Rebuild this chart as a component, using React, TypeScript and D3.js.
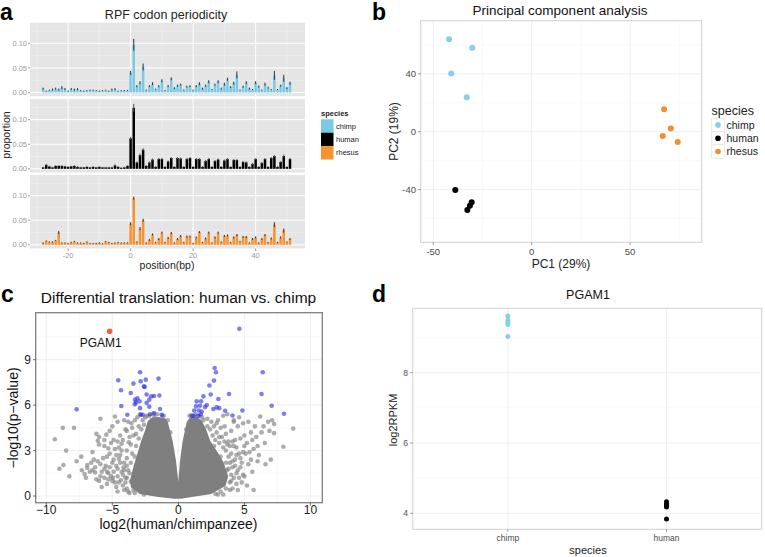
import React from "react";
import * as d3 from "d3";

const FONT = "'Liberation Sans', Arial, Helvetica, sans-serif";

// ---------- panel a: RPF codon periodicity (proportion x 1000) ----------
const positions = [
  -28, -27, -26, -25, -24, -23, -22, -21, -20, -19, -18, -17, -16, -15, -14, -13, -12, -11, -10, -9,
  -8, -7, -6, -5, -4, -3, -2, -1, 0, 1, 2, 3, 4, 5, 6, 7, 8, 9, 10, 11, 12, 13, 14, 15, 16, 17, 18, 19,
  20, 21, 22, 23, 24, 25, 26, 27, 28, 29, 30, 31, 32, 33, 34, 35, 36, 37, 38, 39, 40, 41, 42, 43, 44,
  45, 46, 47, 48, 49, 50, 51,
];
const chimpProp = [
  8, 3, 5, 6, 8, 6, 10, 7, 3, 7, 6, 7, 4, 3, 4, 5, 5, 4, 3, 4, 5, 3, 6, 7, 3, 4, 4, 4,
  40, 97, 13, 20, 52, 5, 13, 18, 7, 13, 24, 4, 13, 28, 9, 14, 16, 5, 12, 13, 5, 13, 18, 8, 14, 22, 6, 16,
  22, 8, 17, 27, 11, 19, 36, 5, 12, 20, 8, 6, 20, 12, 5, 17, 10, 6, 35, 6, 14, 29, 9, 19,
];
const chimpErr = [
  2, 1, 1, 2, 2, 2, 3, 2, 1, 2, 2, 2, 1, 1, 1, 1, 1, 1, 1, 1, 1, 1, 2, 2, 1, 1, 1, 1,
  4, 12, 2, 3, 7, 1, 2, 3, 1, 2, 3, 1, 2, 3, 2, 2, 2, 1, 2, 2, 1, 2, 3, 2, 2, 3, 1, 2,
  3, 2, 3, 3, 2, 3, 7, 1, 2, 3, 2, 1, 3, 2, 1, 3, 2, 1, 9, 1, 2, 7, 2, 3,
];
const humanProp = [
  3, 8, 5, 3, 6, 6, 6, 5, 4, 5, 6, 4, 3, 3, 4, 3, 4, 3, 4, 3, 3, 3, 3, 7, 4, 2, 3, 6,
  62, 124, 13, 28, 39, 6, 13, 19, 4, 20, 20, 4, 15, 22, 4, 22, 21, 4, 20, 22, 4, 20, 20, 4, 16, 20, 4, 16,
  19, 4, 17, 20, 4, 18, 18, 4, 14, 13, 4, 10, 20, 4, 12, 20, 4, 22, 26, 4, 14, 26, 4, 20,
];
const humanErr = [
  1, 2, 1, 1, 1, 1, 1, 1, 1, 1, 1, 1, 1, 1, 1, 1, 1, 1, 1, 1, 1, 1, 1, 2, 1, 1, 1, 1,
  3, 8, 2, 3, 3, 1, 2, 2, 1, 2, 2, 1, 2, 2, 1, 2, 2, 1, 2, 2, 1, 2, 2, 1, 2, 2, 1, 2,
  2, 1, 2, 2, 1, 2, 2, 1, 2, 2, 1, 2, 2, 1, 2, 2, 1, 2, 2, 1, 2, 3, 1, 2,
];
const rhesusProp = [
  4, 8, 6, 6, 9, 25, 4, 4, 3, 5, 7, 4, 4, 3, 6, 3, 3, 3, 4, 2, 7, 5, 3, 4, 5, 4, 4, 4,
  43, 95, 6, 33, 50, 4, 10, 21, 5, 12, 25, 5, 14, 24, 4, 12, 18, 5, 17, 17, 3, 15, 26, 5, 13, 25, 4, 15,
  25, 6, 18, 19, 5, 15, 20, 7, 16, 16, 4, 12, 15, 4, 12, 20, 5, 13, 41, 5, 15, 29, 6, 12,
];
const rhesusErr = [
  1, 1, 1, 1, 1, 3, 1, 1, 1, 1, 1, 1, 1, 1, 1, 1, 1, 1, 1, 1, 1, 1, 1, 1, 1, 1, 1, 1,
  3, 3, 1, 3, 3, 1, 2, 2, 1, 2, 2, 1, 2, 2, 1, 2, 2, 1, 2, 2, 1, 2, 2, 1, 2, 2, 1, 2,
  2, 1, 2, 2, 1, 2, 2, 1, 2, 2, 1, 2, 2, 1, 2, 2, 1, 2, 5, 1, 2, 4, 1, 2,
];

const speciesNames = ["chimp", "human", "rhesus"];
const barColors = ["#78CBE6", "#000000", "#F6922F"];
const pointColors = ["#87CEEB", "#000000", "#F28E2B"];

// ---------- panel b: PCA ----------
const pcaSpecies = ["chimp", "chimp", "chimp", "chimp", "human", "human", "human", "human", "rhesus", "rhesus", "rhesus", "rhesus"];
const pc1 = [-42, -30.2, -40.9, -33, -38.8, -30.5, -31.4, -32.7, 67.3, 70.7, 66.6, 74.2];
const pc2 = [63.9, 58, 40.3, 23.8, -40.3, -48.8, -51.1, -54.1, 15.5, 2.3, -3, -7.1];

// ---------- panel c: volcano ----------
// outline of the saturated, fully overlapping core of the cloud
const denseCore = [
  [-0.3, -0.12], [-1.5, 0.0], [-2.9, 0.2], [-3.5, 0.6], [-3.6, 1.0], [-3.3, 2.0], [-2.95, 3.0],
  [-2.75, 3.6], [-2.45, 4.3], [-2.25, 4.9], [-2.0, 5.1], [-1.5, 5.15], [-1.0, 5.05], [-0.85, 4.8],
  [-0.5, 3.6], [-0.25, 2.3], [-0.08, 1.0], [0, 0.45], [0.08, 1.0], [0.2, 2.3], [0.4, 3.6],
  [0.72, 4.9], [0.95, 5.15], [1.4, 5.15], [1.7, 4.95], [2.0, 4.45], [2.35, 3.6], [2.95, 2.8],
  [3.35, 2.2], [3.7, 1.3], [3.5, 0.7], [2.4, 0.18], [1.0, 0.0], [0.2, -0.12],
];
const volcanoGrey = [
  [-9.35, 3.75], [-8.75, 4.5], [-7.9, 4.5], [-8.5, 3.0], [-9.0, 1.8], [-8.7, 2.05], [-8.25, 1.3],
  [-7.35, 2.6], [-7.7, 2.3], [-7.3, 1.7], [-6.9, 2.05], [-6.7, 1.6], [-7.1, 1.45], [-6.5, 1.7],
  [-6.3, 1.55], [-6.9, 1.85], [-6.1, 3.65], [-6.2, 4.1], [-6.0, 3.9], [-6.0, 3.4], [-6.1, 2.3],
  [-6.2, 1.1], [-6.0, 1.0], [-6.5, 2.9], [-5.9, 5.1], [-5.45, 4.05], [-5.6, 3.3], [-4.8, 5.25],
  [-4.9, 3.7], [-5.0, 4.6], [-4.6, 4.9], [-5.7, 2.5], [-5.5, 2.0], [-5.3, 1.5], [-5.8, 1.6],
  [-5.6, 1.2], [-5.0, 1.0], [-5.2, 2.8], [-4.9, 2.4], [-4.7, 2.0], [-4.5, 3.2], [-4.4, 2.7],
  [-4.3, 1.6], [-4.6, 1.3], [-4.8, 0.9], [-4.2, 0.7], [-5.4, 0.8], [-4.4, 4.0], [-4.2, 3.7],
  [-4.0, 4.4], [-4.1, 2.2], [-5.1, 3.5], [-4.6, 3.6], [-4.0, 1.2], [-3.9, 3.0], [-3.8, 4.9],
  [-3.5, 4.5], [-3.3, 5.0], [-3.1, 5.2], [-3.7, 3.9], [-3.6, 3.4], [-3.2, 4.1], [-3.9, 2.5],
  [-3.0, 4.6], [-2.7, 5.0], [-2.9, 5.4], [-2.5, 5.2], [-3.4, 0.4], [-3.9, 0.5], [-3.3, 0.2],
  [-2.6, 0.1], [-3.8, 1.7], [-3.6, 0.95], [-4.1, 1.7], [-2.2, 5.3], [-1.8, 5.2], [-1.6, 5.4],
  [-1.2, 5.3], [-2.0, 5.0], [-1.4, 4.9], [-5.9, 2.1], [-5.6, 1.8], [-5.2, 1.9], [-4.9, 1.6],
  [-4.6, 1.8], [-4.4, 2.2], [-4.2, 1.4], [-4.5, 0.9], [-4.0, 0.9], [-5.1, 1.3], [-3.9, 2.0],
  [-4.3, 3.0], [-4.7, 2.7], [-5.4, 2.6], [-5.0, 2.2],
  [-3.8, 0.3], [-3.9, 1.2], [-3.7, 1.5], [-3.6, 2.2], [-3.3, 2.6], [-3.2, 3.3], [-3.0, 3.8],
  [-2.8, 4.4], [-2.6, 4.7], [-2.4, 5.3], [-1.9, 5.4], [-1.1, 5.3], [-0.8, 5.0], [-0.6, 4.2],
  [-5.8, 0.6], [-5.3, 1.1], [-4.95, 1.2], [-4.7, 0.6], [-4.35, 1.05], [-4.15, 1.9], [-4.5, 2.45],
  [-4.8, 3.1], [-5.3, 3.15], [-5.6, 3.7], [-4.3, 3.45], [-3.75, 3.55], [-3.5, 2.8], [-3.4, 4.0],
  [-3.55, 4.8], [-3.9, 4.3], [-4.1, 5.0], [-5.2, 4.3], [-6.4, 2.4], [-6.6, 2.2], [-6.3, 1.9],
  [-7.0, 1.2], [-5.9, 1.3], [-5.4, 1.6], [-4.1, 0.4], [-4.6, 0.3], [-3.7, 0.2],
  [1.2, 5.2], [1.6, 5.3], [1.9, 5.0], [2.2, 5.1], [2.5, 4.9], [2.4, 4.4], [2.7, 4.6], [2.9, 4.2],
  [3.2, 4.5], [3.4, 5.3], [3.0, 5.0], [2.8, 3.7], [3.1, 3.5], [3.4, 3.2], [3.6, 3.0], [3.8, 2.6],
  [3.9, 2.2], [4.1, 1.9], [4.0, 1.4], [3.9, 0.9], [3.6, 0.5], [3.2, 0.3], [2.8, 0.15], [3.3, 3.9],
  [3.6, 4.1], [3.8, 3.6], [4.0, 4.3], [4.3, 3.7], [4.5, 4.6], [4.2, 4.9], [4.4, 3.2], [4.6, 2.8],
  [4.3, 2.4], [4.8, 2.2], [4.5, 1.7], [4.9, 1.4], [4.7, 3.8], [5.0, 4.0], [5.2, 3.5], [5.1, 2.8],
  [5.3, 2.1], [5.0, 1.3], [5.2, 0.7], [5.5, 4.2], [5.8, 4.6], [5.9, 3.9], [5.7, 3.1], [6.2, 5.25],
  [6.45, 4.6], [6.55, 3.5], [6.1, 2.7], [5.6, 1.6], [7.0, 2.4], [7.25, 4.75], [7.25, 4.15],
  [7.95, 3.25], [8.7, 4.45], [6.8, 4.9], [6.9, 4.3], [7.1, 5.0], [6.0, 2.3], [4.9, 4.8], [4.2, 5.0],
  [3.7, 5.4], [4.2, 1.2], [4.4, 0.8], [4.1, 0.5], [3.8, 1.8], [4.6, 1.2], [4.0, 2.8], [4.3, 2.0],
  [4.7, 2.5], [3.9, 3.3], [4.2, 3.3],
  [0.6, 4.4], [0.85, 5.3], [1.3, 5.4], [1.8, 5.2], [2.2, 4.6], [2.6, 4.0], [2.7, 3.3], [3.2, 2.6],
  [3.6, 2.2], [3.7, 1.7], [4.0, 1.0], [3.9, 0.4], [3.0, 0.1], [2.9, 4.8], [3.5, 4.6], [3.1, 3.9],
  [3.5, 3.6], [3.7, 3.4], [4.1, 3.6], [4.4, 2.7], [4.1, 2.3], [4.7, 1.9], [4.4, 1.5], [4.8, 0.9],
  [4.5, 0.4], [3.4, 0.1], [5.0, 3.3], [5.4, 2.9], [5.5, 2.4], [4.9, 2.9], [5.6, 3.7], [6.3, 4.2],
  [6.0, 3.3], [5.7, 0.4], [6.6, 2.1], [4.6, 5.2], [5.3, 4.9],
];
const volcanoBlue = [
  [-7.7, 5.72], [-4.55, 7.64], [-4.34, 6.98], [-4.32, 5.94], [-3.86, 5.36], [-3.6, 6.8], [-3.4, 7.42],
  [-2.9, 8.17], [-2.85, 7.57], [-2.6, 7.24], [-2.47, 7.68], [-2.55, 7.2], [-3.28, 6.36], [-3.2, 6.18],
  [-3.3, 6.05], [-3.1, 6.45], [-2.93, 6.25], [-2.9, 5.8], [-2.4, 6.7], [-2.2, 6.36], [-2.05, 6.58],
  [-1.84, 6.6], [-2.4, 6.15], [-2.2, 5.9], [-2.7, 5.36], [-2.85, 5.36], [-2.15, 5.4], [-1.84, 5.47],
  [-1.5, 7.75], [-1.44, 6.64], [-1.39, 5.74], [-1.26, 5.36],
  [4.62, 11.04], [8.0, 5.43], [7.07, 5.96], [6.39, 8.17], [6.3, 6.73], [4.85, 5.65], [4.1, 5.32],
  [3.84, 6.73], [3.54, 5.63], [3.03, 6.4], [3.1, 5.8], [2.9, 5.85], [2.65, 5.74], [2.7, 7.62],
  [2.45, 6.7], [2.35, 7.3], [2.75, 8.45], [2.85, 8.17], [1.9, 6.58], [1.72, 6.25], [1.64, 5.96],
  [1.39, 6.25], [1.34, 5.92], [1.54, 5.65], [1.77, 5.58], [2.02, 5.87], [2.15, 6.0], [1.2, 5.65],
  [1.0, 5.32], [1.15, 5.3], [1.5, 5.3], [1.7, 5.4],
];
const highlightGene = { name: "PGAM1", x: -5.2, y: 10.88 };

// ---------- panel d: PGAM1 expression ----------
const pgamSpecies = ["chimp", "human"];
const pgamChimp = [9.61, 9.49, 9.43, 9.37, 9.03];
const pgamHuman = [4.33, 4.26, 4.22, 4.18, 3.84];

const minus = (v: number) => String(v).replace("-", "\u2212");

function PanelA() {
  const x = d3.scaleLinear().domain([-32.2, 55.8]).range([30, 305]);
  const tops = [22.7, 99, 175];
  const h = 73.5;
  const vals = [chimpProp, humanProp, rhesusProp];
  const errs = [chimpErr, humanErr, rhesusErr];
  const bw = 2.5;
  const xMajor = [-20, 0, 20, 40];
  const xMinor = [-30, -10, 10, 30, 50];
  return (
    <g>
      <text x={166} y={18.5} textAnchor="middle" fontSize={12.5} fill="#222">RPF codon periodicity</text>
      {vals.map((v, i) => {
        const top = tops[i];
        const y = d3.scaleLinear().domain([-0.0075, 0.142]).range([top + h, top]);
        return (
          <g key={i}>
            <rect x={30} y={top} width={275} height={h} fill="#E5E5E5" />
            {[0.025, 0.075, 0.125].map((t) => (
              <line key={"ym" + t} x1={30} x2={305} y1={y(t)} y2={y(t)} stroke="#F2F2F2" strokeWidth={0.5} />
            ))}
            {xMinor.map((t) => (
              <line key={"xm" + t} x1={x(t)} x2={x(t)} y1={top} y2={top + h} stroke="#F2F2F2" strokeWidth={0.5} />
            ))}
            {[0, 0.05, 0.1].map((t) => (
              <line key={"yM" + t} x1={30} x2={305} y1={y(t)} y2={y(t)} stroke="#fff" strokeWidth={1} />
            ))}
            {xMajor.map((t) => (
              <line key={"xM" + t} x1={x(t)} x2={x(t)} y1={top} y2={top + h} stroke="#fff" strokeWidth={1} />
            ))}
            {v.map((d, j) => (
              <rect key={j} x={x(positions[j]) - bw / 2} y={y(d / 1000)} width={bw}
                height={y(0) - y(d / 1000)} fill={barColors[i]} />
            ))}
            {v.map((d, j) => (
              <line key={"e" + j} x1={x(positions[j])} x2={x(positions[j])}
                y1={y((d - errs[i][j]) / 1000)} y2={y((d + errs[i][j]) / 1000)}
                stroke={i === 1 ? "#555" : "#333"} strokeWidth={1} />
            ))}
            {[0, 0.05, 0.1].map((t) => (
              <g key={"yl" + t}>
                <line x1={28} x2={30} y1={y(t)} y2={y(t)} stroke="#999" />
                <text x={27} y={y(t)} dy="0.35em" textAnchor="end" fontSize={7.5} fill="#999">{t.toFixed(2)}</text>
              </g>
            ))}
          </g>
        );
      })}
      {xMajor.map((t) => (
        <g key={"xt" + t}>
          <line x1={x(t)} x2={x(t)} y1={248.5} y2={251} stroke="#999" />
          <text x={x(t)} y={257.5} textAnchor="middle" fontSize={7.5} fill="#999">{t}</text>
        </g>
      ))}
      <text x={167} y={269} textAnchor="middle" fontSize={10.5} fill="#222">position(bp)</text>
      <text transform="translate(9.5,135) rotate(-90)" textAnchor="middle" fontSize={10.5} fill="#222">proportion</text>
      <text x={321} y={116} fontSize={7.5} fontWeight="bold" fill="#222">species</text>
      {speciesNames.map((s, i) => (
        <g key={s}>
          <rect x={321} y={119.3 + i * 13.4} width={12.5} height={13.4} fill={barColors[i]} />
          <text x={336} y={119.3 + i * 13.4 + 6.7} dy="0.35em" fontSize={7.5} fill="#222">{s}</text>
        </g>
      ))}
    </g>
  );
}

function PanelB() {
  const x = d3.scaleLinear().domain([-56.4, 86.4]).range([420.7, 701.7]);
  const y = d3.scaleLinear().domain([-76.4, 76.7]).range([242.3, 20.7]);
  return (
    <g>
      <text x={560} y={14.5} textAnchor="middle" fontSize={13.5} fill="#111">Principal component analysis</text>
      <rect x={420.7} y={20.7} width={281} height={221.6} fill="#fff" />
      {[-25, 25, 75].map((t) => (
        <line key={"xm" + t} x1={x(t)} x2={x(t)} y1={20.7} y2={242.3} stroke="#F5F5F5" strokeWidth={0.6} />
      ))}
      {[-60, -20, 20, 60].map((t) => (
        <line key={"ym" + t} x1={420.7} x2={701.7} y1={y(t)} y2={y(t)} stroke="#F5F5F5" strokeWidth={0.6} />
      ))}
      {[-50, 0, 50].map((t) => (
        <line key={"xM" + t} x1={x(t)} x2={x(t)} y1={20.7} y2={242.3} stroke="#EBEBEB" strokeWidth={0.8} />
      ))}
      {[-40, 0, 40].map((t) => (
        <line key={"yM" + t} x1={420.7} x2={701.7} y1={y(t)} y2={y(t)} stroke="#EBEBEB" strokeWidth={0.8} />
      ))}
      {pc1.map((v, i) => (
        <circle key={i} cx={x(v)} cy={y(pc2[i])} r={3}
          fill={pointColors[speciesNames.indexOf(pcaSpecies[i])]} />
      ))}
      <rect x={420.7} y={20.7} width={281} height={221.6} fill="none" stroke="#D0D0D0" strokeWidth={1} />
      {[-50, 0, 50].map((t) => (
        <g key={"xt" + t}>
          <line x1={x(t)} x2={x(t)} y1={242.3} y2={245} stroke="#555" strokeWidth={0.6} />
          <text x={x(t)} y={254.5} textAnchor="middle" fontSize={9.5} fill="#4D4D4D">{t}</text>
        </g>
      ))}
      {[-40, 0, 40].map((t) => (
        <g key={"yt" + t}>
          <line x1={418} x2={420.7} y1={y(t)} y2={y(t)} stroke="#555" strokeWidth={0.6} />
          <text x={416} y={y(t)} dy="0.35em" textAnchor="end" fontSize={9.5} fill="#4D4D4D">{t}</text>
        </g>
      ))}
      <text x={561} y={268} textAnchor="middle" fontSize={12} fill="#222">PC1 (29%)</text>
      <text transform="translate(398,131.5) rotate(-90)" textAnchor="middle" fontSize={12} fill="#222">PC2 (19%)</text>
      <text x={711.5} y={114.5} fontSize={12.5} fill="#222">species</text>
      {speciesNames.map((s, i) => (
        <g key={s}>
          <rect x={711.7} y={118.3 + i * 13.3} width={12.6} height={13.3} fill="#fff" stroke="#E0E0E0" strokeWidth={0.6} />
          <circle cx={718} cy={124.9 + i * 13.3} r={2.8} fill={pointColors[i]} />
          <text x={726.5} y={124.9 + i * 13.3} dy="0.35em" fontSize={10.5} fill="#222">{s}</text>
        </g>
      ))}
    </g>
  );
}

function PanelC() {
  const x = d3.scaleLinear().domain([-10.8, 10.9]).range([35.7, 322.3]);
  const y = d3.scaleLinear().domain([-0.44, 12.1]).range([502.7, 312.7]);
  const core = d3.line<number[]>().x((d) => x(d[0])).y((d) => y(d[1])).curve(d3.curveLinearClosed)(denseCore) || "";
  return (
    <g>
      <text x={178.5} y={302.5} textAnchor="middle" fontSize={15.5} fill="#111">Differential translation: human vs. chimp</text>
      <rect x={35.7} y={312.7} width={286.6} height={190} fill="#fff" />
      {[-7.5, -2.5, 2.5, 7.5].map((t) => (
        <line key={"xm" + t} x1={x(t)} x2={x(t)} y1={312.7} y2={502.7} stroke="#F4F4F4" strokeWidth={0.6} />
      ))}
      {[1.5, 4.5, 7.5, 10.5].map((t) => (
        <line key={"ym" + t} x1={35.7} x2={322.3} y1={y(t)} y2={y(t)} stroke="#F4F4F4" strokeWidth={0.6} />
      ))}
      {[-10, -5, 0, 5, 10].map((t) => (
        <line key={"xM" + t} x1={x(t)} x2={x(t)} y1={312.7} y2={502.7} stroke="#EBEBEB" strokeWidth={0.8} />
      ))}
      {[0, 3, 6, 9].map((t) => (
        <line key={"yM" + t} x1={35.7} x2={322.3} y1={y(t)} y2={y(t)} stroke="#EBEBEB" strokeWidth={0.8} />
      ))}
      <path d={core} fill="#7F7F7F" stroke="#7F7F7F" strokeWidth={2} strokeLinejoin="round" />
      {volcanoGrey.map((d, i) => (
        <circle key={"g" + i} cx={x(d[0])} cy={y(d[1])} r={2.3} fill="#7F7F7F" fillOpacity={0.65} />
      ))}
      {volcanoBlue.map((d, i) => (
        <circle key={"b" + i} cx={x(d[0])} cy={y(d[1])} r={2.3} fill="#2828E6" fillOpacity={0.6} />
      ))}
      <circle cx={x(highlightGene.x)} cy={y(highlightGene.y)} r={2.8} fill="#F4623A" />
      <text x={x(highlightGene.x) - 9} y={y(highlightGene.y) + 16} textAnchor="middle" fontSize={12} fill="#111">{highlightGene.name}</text>
      <rect x={35.7} y={312.7} width={286.6} height={190} fill="none" stroke="#7F7F7F" strokeWidth={1.3} />
      {[-10, -5, 0, 5, 10].map((t) => (
        <g key={"xt" + t}>
          <line x1={x(t)} x2={x(t)} y1={502.7} y2={505.5} stroke="#333" strokeWidth={0.7} />
          <text x={x(t)} y={513.5} textAnchor="middle" fontSize={12} fill="#222">{minus(t)}</text>
        </g>
      ))}
      {[0, 3, 6, 9].map((t) => (
        <g key={"yt" + t}>
          <line x1={33} x2={35.7} y1={y(t)} y2={y(t)} stroke="#333" strokeWidth={0.7} />
          <text x={31} y={y(t)} dy="0.35em" textAnchor="end" fontSize={12} fill="#222">{t}</text>
        </g>
      ))}
      <text x={178.5} y={528.5} textAnchor="middle" fontSize={14} fill="#111">log2(human/chimpanzee)</text>
      <text transform="translate(18,418) rotate(-90)" textAnchor="middle" fontSize={14} fill="#111">{"\u2212log10(p\u2212value)"}</text>
    </g>
  );
}

function PanelD() {
  const x = d3.scalePoint<string>().domain(pgamSpecies).range([412.7, 761.7]).padding(0.6);
  const y = d3.scaleLinear().domain([3.545, 9.83]).range([529.3, 308.3]);
  const groups = [pgamChimp, pgamHuman];
  return (
    <g>
      <text x={588} y={298.5} textAnchor="middle" fontSize={12.5} fill="#111">PGAM1</text>
      <rect x={412.7} y={308.3} width={349} height={221} fill="#fff" />
      {[5, 7, 9].map((t) => (
        <line key={"ym" + t} x1={412.7} x2={761.7} y1={y(t)} y2={y(t)} stroke="#F5F5F5" strokeWidth={0.6} />
      ))}
      {[4, 6, 8].map((t) => (
        <line key={"yM" + t} x1={412.7} x2={761.7} y1={y(t)} y2={y(t)} stroke="#EBEBEB" strokeWidth={0.8} />
      ))}
      {pgamSpecies.map((s) => (
        <line key={"xM" + s} x1={x(s)} x2={x(s)} y1={308.3} y2={529.3} stroke="#EBEBEB" strokeWidth={0.8} />
      ))}
      {groups.map((g, i) =>
        g.map((v, j) => (
          <circle key={i + "-" + j} cx={x(pgamSpecies[i])} cy={y(v)} r={2.5} fill={pointColors[i]} />
        ))
      )}
      <rect x={412.7} y={308.3} width={349} height={221} fill="none" stroke="#D0D0D0" strokeWidth={1} />
      {pgamSpecies.map((s) => (
        <g key={"xt" + s}>
          <line x1={x(s)} x2={x(s)} y1={529.3} y2={531.8} stroke="#555" strokeWidth={0.6} />
          <text x={x(s)} y={541} textAnchor="middle" fontSize={8.5} fill="#4D4D4D">{s}</text>
        </g>
      ))}
      {[4, 6, 8].map((t) => (
        <g key={"yt" + t}>
          <line x1={410.2} x2={412.7} y1={y(t)} y2={y(t)} stroke="#555" strokeWidth={0.6} />
          <text x={408} y={y(t)} dy="0.35em" textAnchor="end" fontSize={8.5} fill="#4D4D4D">{t}</text>
        </g>
      ))}
      <text x={588} y={554} textAnchor="middle" fontSize={11} fill="#222">species</text>
      <text transform="translate(397,420) rotate(-90)" textAnchor="middle" fontSize={11} fill="#222">log2RPKM</text>
    </g>
  );
}

export default function App() {
  return (
    <svg width={765} height={557} style={{ position: "absolute", left: 0, top: 0, background: "#fff" }}
      fontFamily={FONT}>
      <rect width={765} height={557} fill="#fff" />
      <PanelA />
      <PanelB />
      <PanelC />
      <PanelD />
      <text x={0} y={20} fontSize={23} fontWeight="bold">a</text>
      <text x={372} y={20} fontSize={23} fontWeight="bold">b</text>
      <text x={1} y={302} fontSize={23} fontWeight="bold">c</text>
      <text x={372} y={302} fontSize={23} fontWeight="bold">d</text>
    </svg>
  );
}
